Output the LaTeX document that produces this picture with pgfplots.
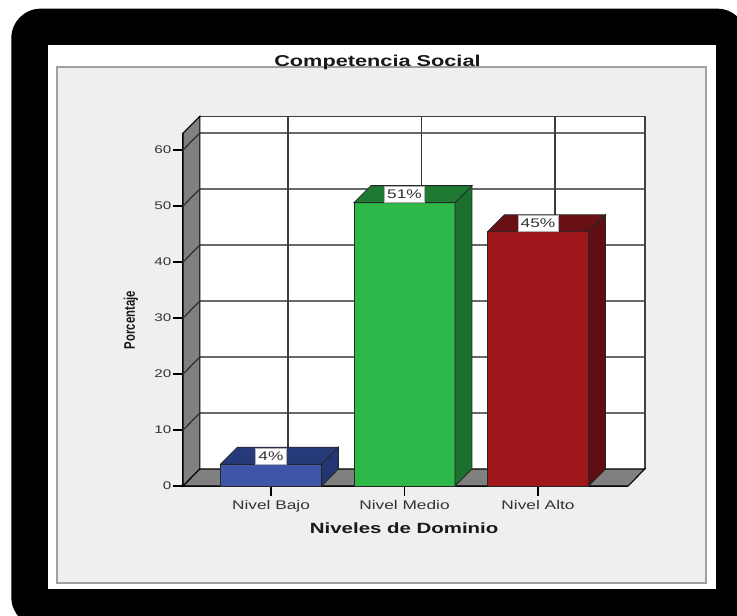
\documentclass[border=0pt]{standalone}
\usepackage{pgfplots}
\pgfplotsset{compat=1.18}
\usepackage{fontspec}
\setmainfont{Liberation Sans}
\newfontfamily\wide{Liberation Sans}[FakeStretch=1.38]
\definecolor{panel}{RGB}{239,239,239}
\definecolor{panelborder}{RGB}{160,160,160}
\definecolor{wall}{RGB}{128,128,128}
\definecolor{gridh}{RGB}{105,105,105}
\definecolor{gridv}{RGB}{60,60,60}
\definecolor{bluef}{RGB}{62,86,168}
\definecolor{bluet}{RGB}{38,57,120}
\definecolor{blues}{RGB}{35,53,115}
\definecolor{greenf}{RGB}{46,184,74}
\definecolor{greent}{RGB}{30,122,50}
\definecolor{greens}{RGB}{28,112,46}
\definecolor{redf}{RGB}{160,23,27}
\definecolor{redt}{RGB}{104,16,19}
\definecolor{reds}{RGB}{96,14,17}
\begin{document}
\begin{tikzpicture}
\useasboundingbox (0,0) rectangle (552.75pt,-461.25pt);
\begin{scope}
\clip (0,0) rectangle (552.75pt,-461.25pt);
\fill[black, rounded corners=22pt] (8.5pt,-6.5pt) rectangle (560pt,-470pt);
\end{scope}
\fill[white] (36pt,-33.75pt) rectangle (537pt,-441.75pt);
\filldraw[fill=panel, draw=panelborder, line width=1.1pt] (42.75pt,-50.25pt) rectangle (529.5pt,-437.25pt);
\begin{axis}[
  at={(137.25pt,-364.5pt)}, anchor=south west,
  scale only axis, width=333.75pt, height=264.6pt,
  xmin=-0.659, xmax=2.674, ymin=0, ymax=63,
  clip=false,
  axis lines*=left,
  axis line style={black, line width=0.8pt},
  tick align=outside,
  major tick length=7.5pt,
  tick style={black, line width=0.8pt},
  xtick={0,1,2},
  xticklabels={Nivel Bajo, Nivel Medio, Nivel Alto},
  ytick={0,10,...,60},
  /pgf/number format/assume math mode=true,
  xticklabel style={font=\wide\fontsize{9.4pt}{11pt}\selectfont, text=black!80},
  yticklabel style={font=\wide\fontsize{8.3pt}{10pt}\selectfont, text=black!80, inner xsep=1pt},
  title={Competencia Social},
  title style={at={(axis description cs:0.437,1.166)}, anchor=base, yshift=0pt, font=\wide\bfseries\fontsize{11.8pt}{13pt}\selectfont, text=black!90},
  xlabel={Niveles de Dominio},
  xlabel style={at={(axis description cs:0.497,-0.136)}, anchor=base, font=\wide\bfseries\fontsize{11.1pt}{13pt}\selectfont, text=black!90},
  ylabel={Porcentaje},
  ylabel style={at={(axis description cs:-0.117,0.47)}, anchor=center, yscale=1.35, font=\bfseries\fontsize{8.5pt}{10pt}\selectfont, text=black!90},
]
% back wall
\addplot[fill=white, draw=none] coordinates {(-0.532,3.036) (2.801,3.036) (2.801,66.036) (-0.532,66.036)} --cycle;
% back wall grid lines
\addplot[gridh, line width=1pt, unbounded coords=jump] coordinates {
 (-0.532,13.036) (2.801,13.036) (nan,nan)
 (-0.532,23.036) (2.801,23.036) (nan,nan)
 (-0.532,33.036) (2.801,33.036) (nan,nan)
 (-0.532,43.036) (2.801,43.036) (nan,nan)
 (-0.532,53.036) (2.801,53.036) (nan,nan)
 (-0.532,63.036) (2.801,63.036)
};
\addplot[gridv, line width=0.9pt, unbounded coords=jump] coordinates {
 (0.127,3.036) (0.127,66.036) (nan,nan)
 (1.127,3.036) (1.127,66.036) (nan,nan)
 (2.127,3.036) (2.127,66.036)
};
\addplot[black!75, line width=1pt] coordinates {(-0.532,66.036) (2.801,66.036) (2.801,3.036)};
% left wall
\addplot[fill=wall, draw=black, line width=0.8pt] coordinates {(-0.659,0) (-0.532,3.036) (-0.532,66.036) (-0.659,63)} --cycle;
\addplot[black!85, line width=0.8pt, unbounded coords=jump] coordinates {
 (-0.659,10) (-0.532,13.036) (nan,nan)
 (-0.659,20) (-0.532,23.036) (nan,nan)
 (-0.659,30) (-0.532,33.036) (nan,nan)
 (-0.659,40) (-0.532,43.036) (nan,nan)
 (-0.659,50) (-0.532,53.036) (nan,nan)
 (-0.659,60) (-0.532,63.036)
};
% floor
\addplot[fill=wall, draw=black, line width=0.8pt] coordinates {(-0.659,0) (2.674,0) (2.801,3.036) (-0.532,3.036)} --cycle;
% Nivel Bajo
\addplot[ybar, bar width=0.757, bar shift=0pt, fill=bluef, draw=black!85, line width=0.6pt] coordinates {(0,3.9)};
\addplot[fill=blues, draw=black!85, line width=0.6pt] coordinates {(0.378,0) (0.505,3.036) (0.505,6.936) (0.378,3.9)} --cycle;
\addplot[fill=bluet, draw=black!85, line width=0.6pt] coordinates {(-0.378,3.9) (0.378,3.9) (0.505,6.936) (-0.251,6.936)} --cycle;
% Nivel Medio
\addplot[ybar, bar width=0.757, bar shift=0pt, fill=greenf, draw=black!85, line width=0.6pt] coordinates {(1,50.6)};
\addplot[fill=greens, draw=black!85, line width=0.6pt] coordinates {(1.378,0) (1.505,3.036) (1.505,53.636) (1.378,50.6)} --cycle;
\addplot[fill=greent, draw=black!85, line width=0.6pt] coordinates {(0.622,50.6) (1.378,50.6) (1.505,53.636) (0.749,53.636)} --cycle;
% Nivel Alto
\addplot[ybar, bar width=0.757, bar shift=0pt, fill=redf, draw=black!85, line width=0.6pt] coordinates {(2,45.4)};
\addplot[fill=reds, draw=black!85, line width=0.6pt] coordinates {(2.378,0) (2.505,3.036) (2.505,48.436) (2.378,45.4)} --cycle;
\addplot[fill=redt, draw=black!85, line width=0.6pt] coordinates {(1.622,45.4) (2.378,45.4) (2.505,48.436) (1.749,48.436)} --cycle;
% value labels
\addplot[ybar, bar width=0.757, bar shift=0pt, draw=none, fill=none,
  point meta=explicit symbolic, nodes near coords,
  every node near coord/.append style={fill=white, draw=gray!60, line width=0.4pt, inner xsep=2.2pt, inner ysep=2.6pt, anchor=south, font=\wide\fontsize{9.4pt}{11pt}\selectfont, text=black!80}]
  coordinates {(0,3.9)[4\%] (1,50.6)[51\%] (2,45.4)[45\%]};
\end{axis}
\end{tikzpicture}
\end{document}
